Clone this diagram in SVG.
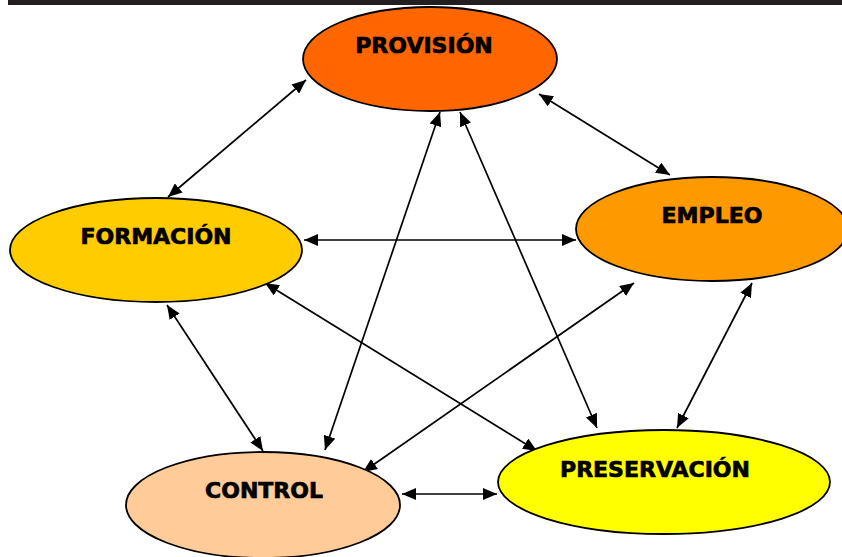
<svg xmlns="http://www.w3.org/2000/svg" width="842" height="557" viewBox="0 0 842 557">
<style>
.n{stroke:#000;stroke-width:1.8}
.t{font-family:"DejaVu Sans",Verdana,sans-serif;font-weight:bold;font-size:22px;text-anchor:middle;fill:#000;stroke:#000;stroke-width:0.7}
.c{stroke:#000;stroke-width:1.7;fill:none;marker-start:url(#a);marker-end:url(#a)}
</style>
<defs>
<marker id="a" viewBox="0 0 14 12" refX="14" refY="6" markerWidth="14" markerHeight="12" markerUnits="userSpaceOnUse" orient="auto-start-reverse">
<path d="M0,0 L14,6 L0,12 z" fill="#000"/>
</marker>
</defs>
<rect x="8" y="0" width="834" height="5" fill="#231f20"/>
<g id="connectors">
<line class="c" x1="306" y1="80" x2="168" y2="197"/>
<line class="c" x1="539" y1="94" x2="670" y2="175"/>
<line class="c" x1="304" y1="240" x2="576" y2="240"/>
<line class="c" x1="167" y1="305" x2="263" y2="451"/>
<line class="c" x1="265" y1="283" x2="537" y2="451"/>
<line class="c" x1="440" y1="112" x2="325" y2="450"/>
<line class="c" x1="460" y1="112" x2="597" y2="428"/>
<line class="c" x1="634" y1="283" x2="363" y2="472"/>
<line class="c" x1="752" y1="283" x2="677" y2="428"/>
<line class="c" x1="402" y1="494" x2="497" y2="494"/>
</g>
<g id="provision">
<ellipse class="n" cx="430" cy="59" rx="127" ry="52" fill="#ff6600"/>
<text class="t" x="424" y="53">PROVISIÓN</text>
</g>
<g id="formacion">
<ellipse class="n" cx="156" cy="250" rx="146" ry="52" fill="#ffcc00"/>
<text class="t" x="156" y="244">FORMACIÓN</text>
</g>
<g id="empleo">
<ellipse class="n" cx="712" cy="229" rx="136" ry="52" fill="#ff9900"/>
<text class="t" x="712" y="223">EMPLEO</text>
</g>
<g id="control">
<ellipse class="n" cx="263" cy="505" rx="137" ry="53" fill="#ffcc99"/>
<text class="t" x="264" y="498">CONTROL</text>
</g>
<g id="preservacion">
<ellipse class="n" cx="664" cy="482" rx="166" ry="52" fill="#ffff00"/>
<text class="t" x="655" y="477">PRESERVACIÓN</text>
</g>
</svg>
